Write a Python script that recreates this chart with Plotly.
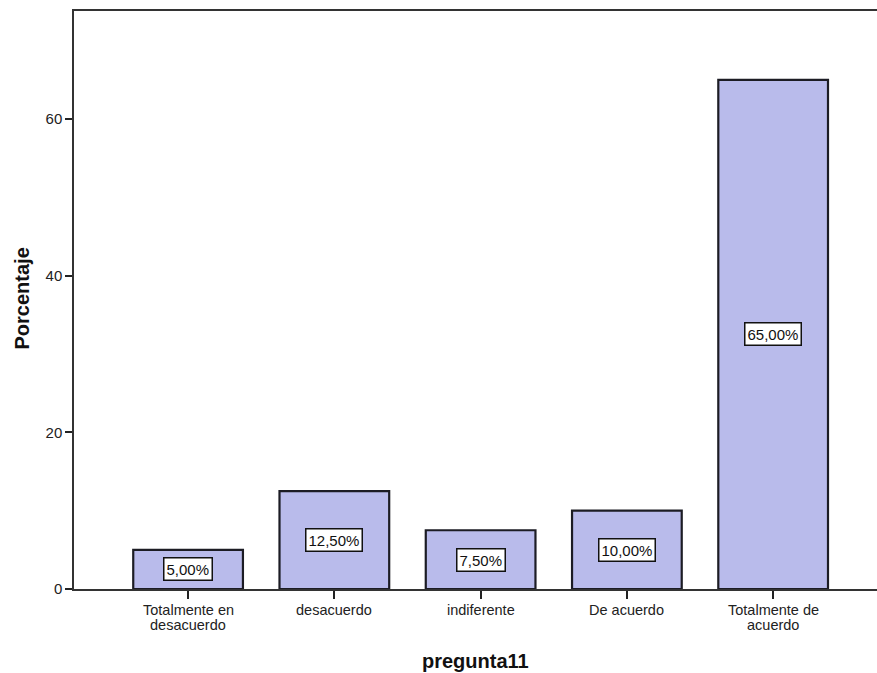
import plotly.graph_objects as go

# Response categories for pregunta11 and their percentages
categories = ["Totalmente en<br>desacuerdo", "desacuerdo", "indiferente", "De acuerdo", "Totalmente de<br>acuerdo"]
percentages = [5.00, 12.50, 7.50, 10.00, 65.00]
y_ticks = [0, 20, 40, 60]

FONT = "Arial, Liberation Sans, sans-serif"
positions = list(range(len(categories)))

fig = go.Figure()
fig.add_trace(go.Bar(
    x=positions,
    y=percentages,
    width=0.75,
    marker=dict(color="#b9bbeb", line=dict(color="#1c1c24", width=2.2)),
    hoverinfo="skip",
))

# Value labels in white boxes at the middle of each bar
for xi, v in zip(positions, percentages):
    fig.add_annotation(
        x=xi, y=v / 2, xref="x", yref="y",
        text=f"{v:.2f}%".replace(".", ","),
        showarrow=False,
        font=dict(family=FONT, size=15, color="#111"),
        bgcolor="white", bordercolor="#111", borderwidth=1.5, borderpad=2,
    )

# Category labels under the axis, one annotation per text line for tight line spacing
for xi, label in zip(positions, categories):
    for k, line in enumerate(label.split("<br>")):
        fig.add_annotation(
            x=xi, y=0, xref="x", yref="y",
            yanchor="middle", yshift=-21 - 14.5 * k,
            text=line, showarrow=False,
            font=dict(family=FONT, size=14.5, color="#222"),
        )

# Axis titles
fig.add_annotation(
    x=0.5, y=-0.124, xref="paper", yref="paper", yanchor="middle",
    text="<b>pregunta11</b>", showarrow=False,
    font=dict(family=FONT, size=20, color="#111"),
)
fig.add_annotation(
    x=-0.0645, y=0.503, xref="paper", yref="paper", xanchor="center",
    text="<b>Porcentaje</b>", textangle=-90, showarrow=False,
    font=dict(family=FONT, size=20, color="#111"),
)

fig.update_layout(
    width=877, height=673,
    margin=dict(l=74, r=0, t=11, b=84),
    paper_bgcolor="white", plot_bgcolor="white",
    showlegend=False,
    font=dict(family=FONT, size=15, color="#222"),
    xaxis=dict(
        range=[-0.78, 4.71],
        tickmode="array", tickvals=positions, showticklabels=False,
        ticks="outside", ticklen=8, tickwidth=1.5, tickcolor="#222",
        showline=True, linecolor="#333", linewidth=1.5, mirror=True,
        showgrid=False, zeroline=False,
    ),
    yaxis=dict(
        range=[0, 73.8],
        tickmode="array", tickvals=y_ticks,
        ticks="outside", ticklen=7, tickwidth=1.5, tickcolor="#222",
        showline=True, linecolor="#333", linewidth=1.5, mirror=False,
        showgrid=False, zeroline=False,
        tickfont=dict(family=FONT, size=15, color="#222"),
    ),
)

fig.write_html("out.html")
